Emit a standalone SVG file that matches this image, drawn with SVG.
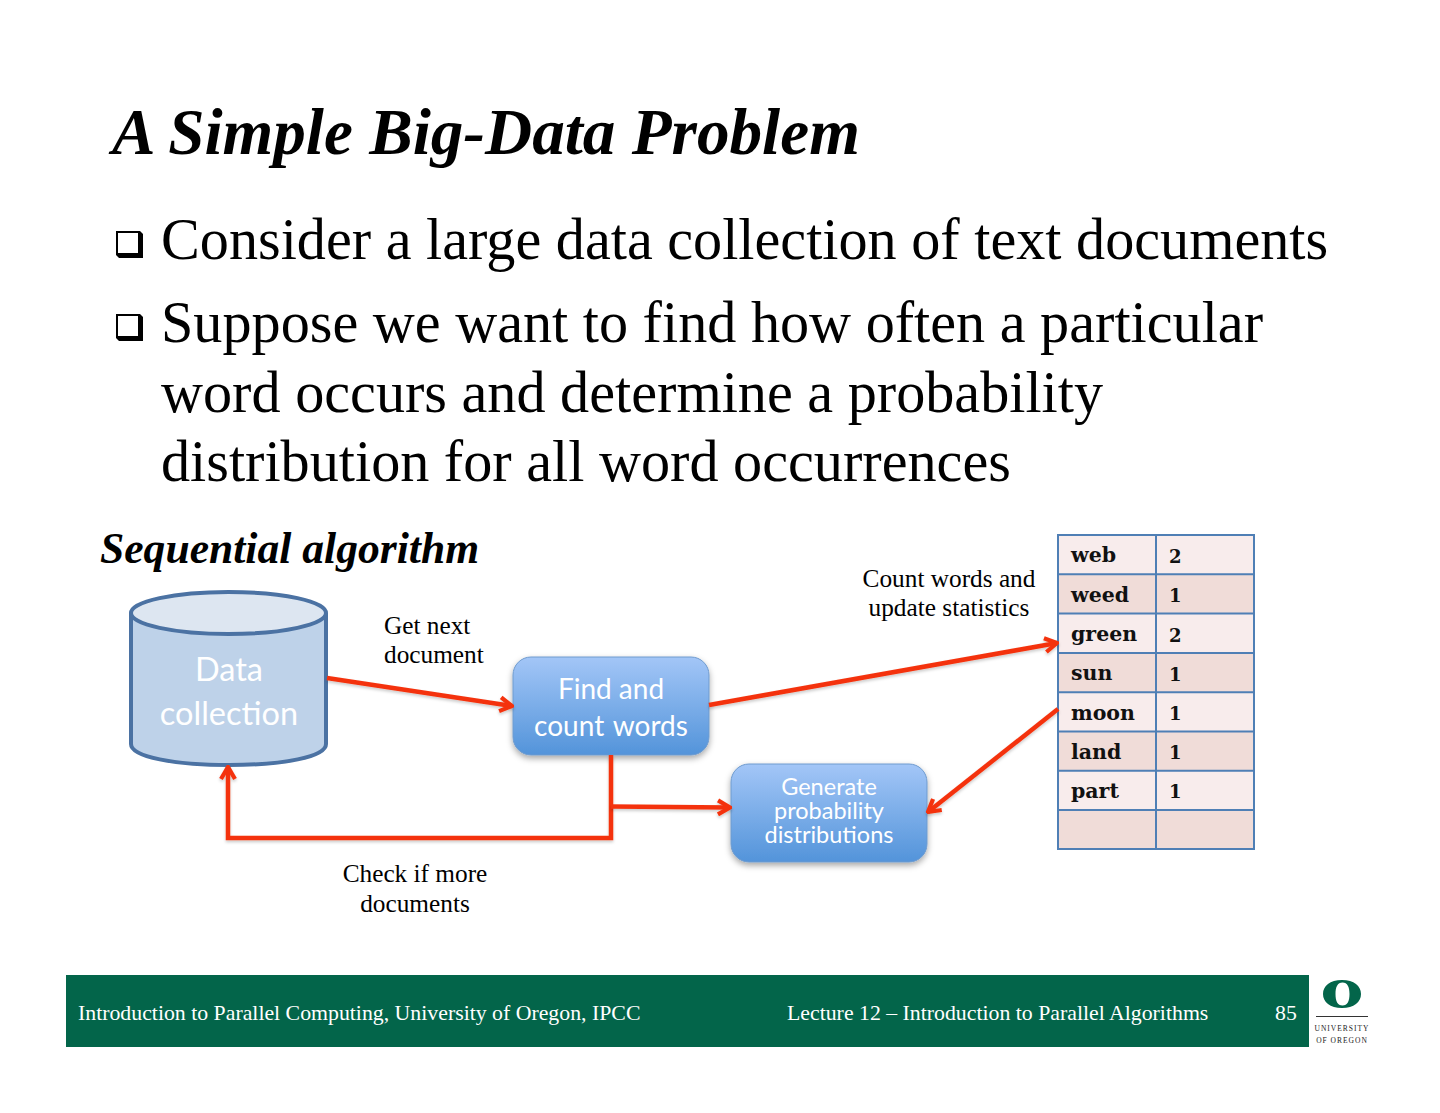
<svg xmlns="http://www.w3.org/2000/svg" width="1440" height="1113" viewBox="0 0 1440 1113">
<style>
.s{font-family:"Liberation Serif",serif;fill:#000}
.t{font-size:65.200px;font-weight:bold;font-style:italic}
.b{font-size:58.200px}
.l{font-size:25.300px;text-anchor:middle}
.n{font-family:Lato,"Open Sans",sans-serif;fill:#fff;text-anchor:middle}
.c{font-family:"DejaVu Serif",serif;font-weight:bold;font-size:20.500px;fill:#111}
.d{font-family:"DejaVu Serif",serif;font-weight:bold;font-size:18px;fill:#111}
.f{font-family:"Liberation Serif",serif;font-size:21.800px;fill:#fff}
.w{fill:none;stroke:#f4330d;stroke-width:4.500;filter:url(#ws)}
.g{fill:#000}
.bul{fill:#fff}
.r1{fill:#f8ecec}.r2{fill:#f0dcd8}
.gl{stroke:#4f7fb5;stroke-width:2;fill:none}
</style>
<defs>
<linearGradient id="bg" x1="0" y1="0" x2="0" y2="1"><stop offset="0" stop-color="#a3c6f7"/><stop offset="1" stop-color="#5394da"/></linearGradient>
<filter id="sh" x="-10%" y="-10%" width="120%" height="125%"><feDropShadow dx="0" dy="3" stdDeviation="3" flood-color="#000" flood-opacity=".35"/></filter>
<filter id="ws" filterUnits="userSpaceOnUse" x="0" y="500" width="1440" height="500"><feDropShadow dx="0" dy="2" stdDeviation="1.500" flood-color="#000" flood-opacity=".2"/></filter>
<marker id="a" viewBox="0 0 18 18" refX="16" refY="9" markerWidth="18" markerHeight="18" markerUnits="userSpaceOnUse" orient="auto"><path d="M4 2 16 9 4 16" fill="none" stroke="#f4330d" stroke-width="4.200"/></marker>
</defs>

<g id="title"><text class="s t" x="112" y="154">A Simple Big-Data Problem</text></g>
<g id="bullets">
<path class="g" d="M116 231H140L143 234V258H119L116 255Z"/><rect class="bul" x="118" y="233" width="20" height="20"/>
<text class="s b" x="161" y="259">Consider a large data collection of text documents</text>
<path class="g" d="M116 314H140L143 317V341H119L116 338Z"/><rect class="bul" x="118" y="316" width="20" height="20"/>
<text class="s b" x="161" y="342">Suppose we want to find how often a particular</text>
<text class="s b" x="161" y="412">word occurs and determine a probability</text>
<text class="s b" x="161" y="481">distribution for all word occurrences</text>
</g>
<g id="subtitle"><text class="s" x="100" y="563" font-size="43.600" font-weight="bold" font-style="italic">Sequential algorithm</text></g>

<g id="data-collection">
<path d="M131 613V744C131 757 175 765 229 765S326 757 326 744V613" fill="#bed2e9" stroke="#4b72a3" stroke-width="4"/>
<ellipse cx="228.500" cy="613" rx="97.500" ry="21" fill="#dde6f1" stroke="#4b72a3" stroke-width="4"/>
<text class="n" x="229" y="681" font-size="32.500">Data</text>
<text class="n" x="229" y="725" font-size="32.500">collection</text>
</g>
<g id="find-count">
<rect x="513" y="657" width="196" height="98" rx="18" fill="url(#bg)" stroke="#6f9bce" stroke-width="1" filter="url(#sh)"/>
<text class="n" x="611" y="699" font-size="28">Find and</text>
<text class="n" x="611" y="736" font-size="28" word-spacing="2">count words</text>
</g>
<g id="generate">
<rect x="731" y="764" width="196" height="98" rx="18" fill="url(#bg)" stroke="#6f9bce" stroke-width="1" filter="url(#sh)"/>
<text class="n" font-size="23.500"><tspan x="829" y="795">Generate</tspan><tspan x="829" y="819">probability</tspan><tspan x="829" y="843">distributions</tspan></text>
</g>

<g id="table">
<rect class="r1" x="1058" y="535" width="196" height="39.300"/>
<rect class="r2" x="1058" y="574.300" width="196" height="39.300"/>
<rect class="r1" x="1058" y="613.600" width="196" height="39.300"/>
<rect class="r2" x="1058" y="652.900" width="196" height="39.300"/>
<rect class="r1" x="1058" y="692.200" width="196" height="39.300"/>
<rect class="r2" x="1058" y="731.500" width="196" height="39.300"/>
<rect class="r1" x="1058" y="770.800" width="196" height="39.300"/>
<rect class="r2" x="1058" y="810.100" width="196" height="39.300"/>
<path class="gl" d="M1058 535H1254V849H1058ZM1156 535V849M1058 574.300H1254M1058 613.600H1254M1058 652.900H1254M1058 692.200H1254M1058 731.500H1254M1058 770.800H1254M1058 810.100H1254"/>
<text class="c" x="1071" y="562">web</text><text class="d" x="1169" y="563">2</text>
<text class="c" x="1071" y="602">weed</text><text class="d" x="1169" y="602">1</text>
<text class="c" x="1071" y="641">green</text><text class="d" x="1169" y="642">2</text>
<text class="c" x="1071" y="680">sun</text><text class="d" x="1169" y="681">1</text>
<text class="c" x="1071" y="720">moon</text><text class="d" x="1169" y="720">1</text>
<text class="c" x="1071" y="759">land</text><text class="d" x="1169" y="759">1</text>
<text class="c" x="1071" y="798">part</text><text class="d" x="1169" y="798">1</text>
</g>

<g id="connectors">
<path class="w" marker-end="url(#a)" d="M327 678 512 706"/>
<path class="w" marker-end="url(#a)" d="M709 705 1057 643"/>
<path class="w" marker-end="url(#a)" d="M1058 709 928 812"/>
<path class="w" marker-end="url(#a)" d="M611 755V838H228V767"/>
<path class="w" marker-end="url(#a)" d="M611 806.500 730 807.500"/>
</g>
<g id="labels">
<text class="s" x="384" y="634" font-size="25.300">Get next</text>
<text class="s" x="384" y="663" font-size="25.300">document</text>
<text class="s l" x="949" y="587">Count words and</text>
<text class="s l" x="949" y="616">update statistics</text>
<text class="s l" x="415" y="882">Check if more</text>
<text class="s l" x="415" y="912">documents</text>
</g>
<g id="footer">
<rect x="66" y="975" width="1243" height="72" fill="#03654a"/>
<text class="f" x="78" y="1020">Introduction to Parallel Computing, University of Oregon, IPCC</text>
<text class="f" x="787" y="1020">Lecture 12 – Introduction to Parallel Algorithms</text>
<text class="f" x="1275" y="1020">85</text>
</g>
<g id="logo">
<path fill-rule="evenodd" fill="#03654a" d="M1342 980C1354 980 1361 986 1361 994S1354 1008 1342 1008 1323 1002 1323 994 1330 980 1342 980ZM1342.500 982.500C1337.500 982.500 1335.500 987 1335.500 994S1337.500 1005.500 1342.500 1005.500 1349.500 1001 1349.500 994 1347.500 982.500 1342.500 982.500Z"/>
<path d="M1316 1016.500H1368" stroke="#333" stroke-width="1"/>
<text x="1342" y="1031" font-family="Liberation Serif,serif" font-size="7.500" letter-spacing="1" text-anchor="middle" fill="#222">UNIVERSITY</text>
<text x="1342" y="1043" font-family="Liberation Serif,serif" font-size="7.500" letter-spacing="1" text-anchor="middle" fill="#222">OF OREGON</text>
</g>
</svg>
